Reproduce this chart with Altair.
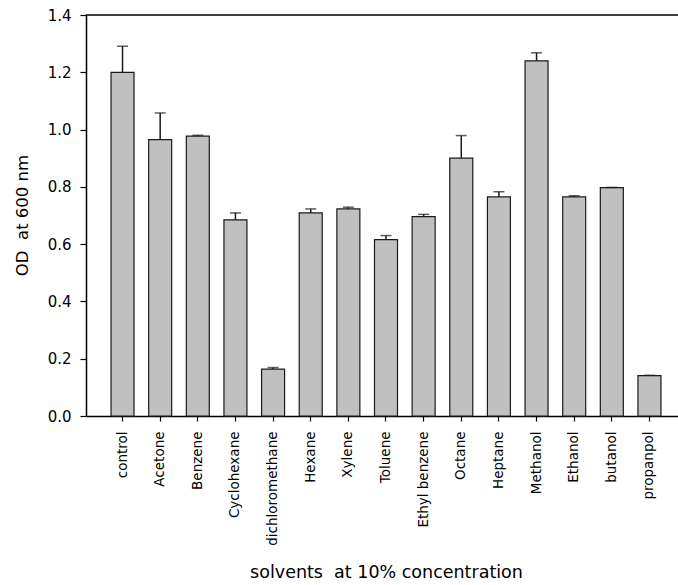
import altair as alt
import pandas as pd

# Optical density of cultures grown with each solvent at 10% concentration
solvents = [
    "control", "Acetone", "Benzene", "Cyclohexane", "dichloromethane",
    "Hexane", "Xylene", "Toluene", "Ethyl benzene", "Octane",
    "Heptane", "Methanol", "Ethanol", "butanol", "propanpol",
]
od_mean = [1.200, 0.965, 0.977, 0.685, 0.164, 0.709, 0.723, 0.616,
           0.696, 0.900, 0.765, 1.240, 0.765, 0.797, 0.141]
od_err = [0.091, 0.093, 0.003, 0.024, 0.005, 0.014, 0.006, 0.014,
          0.008, 0.079, 0.018, 0.028, 0.004, 0.001, 0.001]
y_ticks = [0.0, 0.2, 0.4, 0.6, 0.8, 1.0, 1.2, 1.4]

df = pd.DataFrame({"solvent": solvents, "od": od_mean, "err": od_err})
df["upper"] = df["od"] + df["err"]

FONT = "DejaVu Sans"
NBSP = "\u00a0"  # keeps the double gaps in the axis titles from collapsing

x_enc = alt.X(
    "solvent:N",
    sort=solvents,
    scale=alt.Scale(paddingInner=0.389, paddingOuter=0.559, align=0.595),
    axis=alt.Axis(
        title=f"solvents {NBSP}at 10% concentration",
        labelAngle=-90,
        labelFont=FONT, labelFontSize=13.5, labelColor="black",
        labelPadding=10,
        tickSize=5, tickColor="black", tickWidth=1.2,
        domainColor="black", domainWidth=1.5,
        titleFont=FONT, titleFontSize=17.5, titleFontWeight="normal",
        titleColor="black",
        titleX=300, titleY=161, titleAlign="center",
        titleBaseline="alphabetic",
        grid=False,
    ),
)

y_scale = alt.Scale(domain=[0, 1.4], nice=False, zero=True)
y_axis = alt.Axis(
    title=f"OD {NBSP}at 600 nm",
    values=y_ticks,
    format=".1f",
    labelFont=FONT, labelFontSize=15, labelColor="black",
    labelPadding=9,
    tickSize=6, tickColor="black", tickWidth=1.2,
    domainColor="black", domainWidth=1.5,
    titleFont=FONT, titleFontSize=16.5, titleFontWeight="normal",
    titleColor="black",
    titleAngle=-90, titleX=-59, titleY=200,
    titleAlign="center", titleBaseline="alphabetic",
    grid=False,
)

base = alt.Chart(df)

bars = base.mark_bar(
    fill="#c0c0c0", stroke="#1a1a1a", strokeWidth=1.2
).encode(
    x=x_enc,
    y=alt.Y("od:Q", scale=y_scale, axis=y_axis),
)

stems = base.mark_rule(color="#1a1a1a", strokeWidth=1.5).encode(
    x=alt.X("solvent:N", sort=solvents),
    y="od:Q",
    y2="upper:Q",
)

caps = base.mark_tick(
    color="#1a1a1a", thickness=1.5, size=11, orient="horizontal"
).encode(
    x=alt.X("solvent:N", sort=solvents),
    y="upper:Q",
)

# top border of the plot frame
top_line = alt.Chart(pd.DataFrame({"v": [1.4]})).mark_rule(
    color="black", strokeWidth=1.5
).encode(y=alt.Y("v:Q"))

chart = (
    alt.layer(bars, stems, caps, top_line)
    .properties(
        width=592,
        height=401,
        autosize=alt.AutoSizeParams(type="none"),
        padding={"left": 86, "top": 15, "right": 0, "bottom": 169},
        background="white",
    )
    .configure_view(stroke=None)
)

chart.save("out.html", embed_options={"renderer": "svg", "actions": False})
